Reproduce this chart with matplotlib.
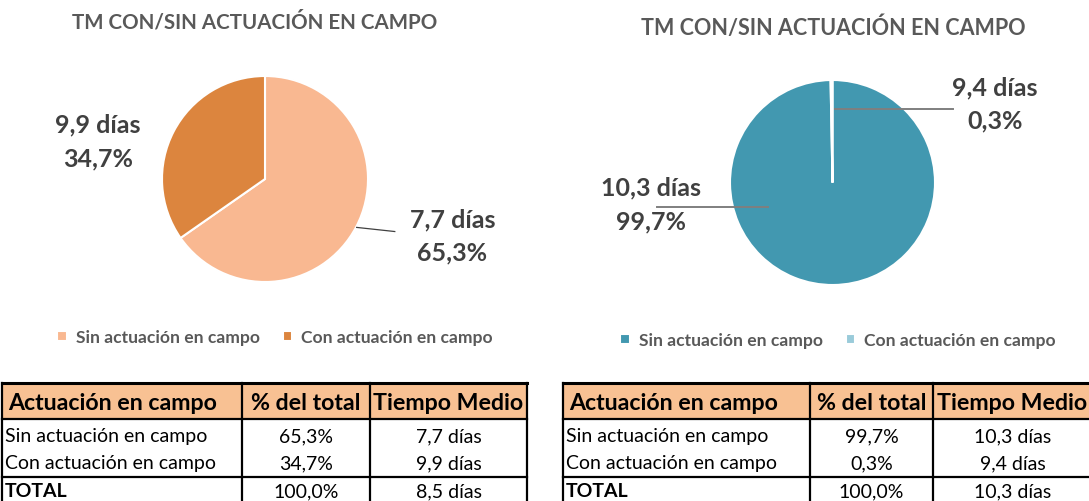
import matplotlib
matplotlib.use("Agg")
import numpy as np
import matplotlib.pyplot as plt
from matplotlib.patches import Rectangle

plt.rcParams["font.family"] = ["Lato", "DejaVu Sans"]

# ---- data ----
TITLE = "TM CON/SIN ACTUACIÓN EN CAMPO"
categories = ["Sin actuación en campo", "Con actuación en campo"]
pct_left = [65.3, 34.7]
days_left = [7.7, 9.9]
total_left = (100.0, 8.5)
pct_right = [99.7, 0.3]
days_right = [10.3, 9.4]
total_right = (100.0, 10.3)
col_headers = ["Actuación en campo", "% del total", "Tiempo Medio"]

COL_L = ["#F9B891", "#DC853E"]
COL_R = ["#4298B0", "#9ACBDA"]
HEAD = "#F8C193"
LBL = "#404040"
GREY = "#595959"

W, H = 1089, 502
fig = plt.figure(figsize=(W / 100, H / 100), dpi=100)
bg = fig.add_axes([0, 0, 1, 1])
bg.set_xlim(0, W); bg.set_ylim(H, 0); bg.axis("off")


def fmt(v, dec=1):
    return f"{v:.{dec}f}".replace(".", ",")


def pie_axes(cx, cy, r):
    ax = fig.add_axes([(cx - r) / W, (H - cy - r) / H, 2 * r / W, 2 * r / H])
    ax.axis("off")
    return ax


def fix(ax):
    ax.set_xlim(-1, 1); ax.set_ylim(-1, 1); ax.set_aspect("equal")


def label_text(ax, x, y, d, p):
    ax.text(x, y, f"{fmt(d)} días\n{fmt(p)}%", ha="center", va="center", fontsize=18,
            fontweight="bold", color=LBL, linespacing=1.55, clip_on=False)


# ---- left pie ----
axl = pie_axes(265, 180, 103)
wl, _ = axl.pie(pct_left, colors=COL_L, startangle=90, counterclock=False, radius=1,
                wedgeprops=dict(edgecolor="white", linewidth=1.5))
fix(axl)
label_text(axl, 1.82, -0.55, days_left[0], pct_left[0])
label_text(axl, -1.62, 0.37, days_left[1], pct_left[1])
axl.plot([0.89, 1.26], [-0.47, -0.51], color="#404040", lw=0.9, clip_on=False)

# ---- right pie ----
axr = pie_axes(832.5, 183.5, 102.5)
wr, _ = axr.pie(pct_right, colors=COL_R, startangle=90, counterclock=False, radius=1,
                wedgeprops=dict(edgecolor="white", linewidth=1.5))
fix(axr)
label_text(axr, -1.77, -0.21, days_right[0], pct_right[0])
label_text(axr, 1.585, 0.77, days_right[1], pct_right[1])
axr.plot([-1.71, -0.63], [-0.24, -0.24], color="#7f7f7f", lw=1.4, clip_on=False)
axr.plot([0.02, 1.18], [0.72, 0.72], color="#7f7f7f", lw=1.4, clip_on=False)

# ---- titles ----
bg.text(255, 22, TITLE, ha="center", va="center", fontsize=14.8, fontweight="bold", color=GREY)
bg.text(833, 28, TITLE, ha="center", va="center", fontsize=15.5, fontweight="bold", color=GREY)

# ---- legends ----
for wedges, cx, cy in [(wl, 275 / W, 1 - 338 / H), (wr, 838 / W, 1 - 341 / H)]:
    fig.legend(wedges, categories, loc="center", bbox_to_anchor=(cx, cy), ncol=2,
               frameon=False, handlelength=0.55, handleheight=0.55, handletextpad=0.5,
               columnspacing=1.3, prop=dict(size=12.6, weight="bold"), labelcolor=GREY)


# ---- tables ----
def table(xs, pct, days, total):
    top, hb, tl, bot = 384, 420, 478, 510
    bg.add_patch(Rectangle((xs[0], top), xs[3] - xs[0], hb - top, facecolor=HEAD,
                           edgecolor="none", clip_on=False))
    bg.plot([xs[0], xs[3]], [top, top], color="black", lw=2.2)
    bg.plot([xs[0], xs[3]], [hb, hb], color="black", lw=1.6)
    bg.plot([xs[0], xs[3]], [tl, tl], color="black", lw=1.6)
    for x in xs:
        bg.plot([x, x], [top, bot], color="black", lw=1.6)
    bg.text(xs[0] + 6, 404, col_headers[0], ha="left", va="center", fontsize=16.7,
            fontweight="bold", color="black")
    for j in (1, 2):
        bg.text((xs[j] + xs[j + 1]) / 2, 404, col_headers[j], ha="center", va="center",
                fontsize=16.7, fontweight="bold", color="black")
    rows_y = [437, 464]
    for i, y in enumerate(rows_y):
        bg.text(xs[0] + 3, y, categories[i], ha="left", va="center", fontsize=14, color="black")
        bg.text((xs[1] + xs[2]) / 2, y, fmt(pct[i]) + "%", ha="center", va="center",
                fontsize=14, color="black")
        bg.text((xs[2] + xs[3]) / 2, y, fmt(days[i]) + " días", ha="center", va="center",
                fontsize=14, color="black")
    bg.text(xs[0] + 3, 492, "TOTAL", ha="left", va="center", fontsize=14,
            fontweight="bold", color="black")
    bg.text((xs[1] + xs[2]) / 2, 492, fmt(total[0]) + "%", ha="center", va="center",
            fontsize=14, color="black")
    bg.text((xs[2] + xs[3]) / 2, 492, fmt(total[1]) + " días", ha="center", va="center",
            fontsize=14, color="black")


table([2, 242, 370, 527], pct_left, days_left, total_left)
table([563, 810, 933, 1092], pct_right, days_right, total_right)

fig.savefig("out.png", dpi=100)
